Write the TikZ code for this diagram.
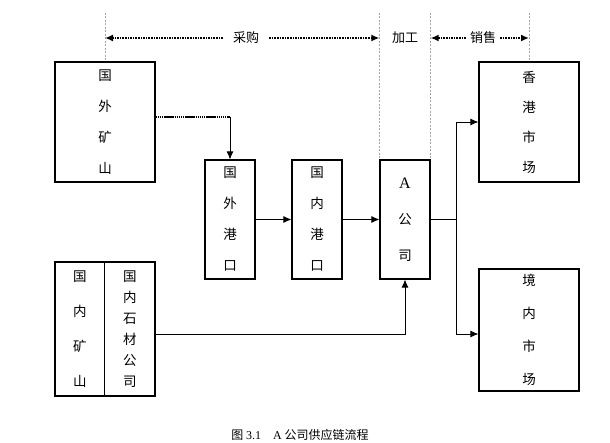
\documentclass[tikz,border=0pt]{standalone}
\usepackage{fontspec}
\setmainfont{Liberation Serif}
\newfontfamily\cjk{Noto Sans CJK SC}
\usetikzlibrary{arrows.meta}

\tikzset{
  box/.style={draw, line width=1.2pt, inner sep=0pt, align=center,
    font=\cjk\fontsize{13.5}{#1}\selectfont},
  guide/.style={gray!70, line width=.8pt, dash pattern=on 2pt off 1.5pt},
  span/.style={black, line width=1.6pt, dash pattern=on 1.6pt off 1pt,
    -{Latex[length=8pt,width=7pt]}},
  tag/.style={font=\cjk\fontsize{13}{15}\selectfont, inner sep=0pt},
  flow/.style={line width=.8pt, -{Latex[length=8pt,width=7pt]}},
}

\begin{document}
\begin{tikzpicture}[x=1pt, y=-1pt]
\useasboundingbox (0,0) rectangle (610,443);

% boxes
\node[box=31, minimum width=100, minimum height=120] (fmine) at (105,122) {国\\外\\矿\\山};
\node[box=31, minimum width=50, minimum height=119] (fport) at (230,219.5) {国\\外\\港\\口};
\node[box=31, minimum width=50, minimum height=119] (dport) at (317,219.5) {国\\内\\港\\口};
\node[box=36, minimum width=50, minimum height=119] (acomp) at (405,219.5) {{\rmfamily\fontsize{16}{16}\selectfont A}\\公\\司};
\node[box=30, minimum width=100, minimum height=120] (hk) at (529,122) {香\\港\\市\\场};
\node[box=33, minimum width=100, minimum height=122] (dmkt) at (529,330) {境\\内\\市\\场};
\node[box=35, minimum width=49.5, minimum height=134] (dmine) at (79.75,329) {国\\内\\矿\\山};
\node[box=21, minimum width=50.5, minimum height=134] (dstone) at (129.75,329) {国\\内\\石\\材\\公\\司};

% stage guides
\coordinate (g1) at (fmine.north |- 0,13);
\coordinate (g2) at (acomp.north west |- 0,13);
\coordinate (g3) at (acomp.north east |- 0,13);
\coordinate (g4) at (hk.north |- 0,13);
\draw[guide] (g1) -- (fmine.north);
\draw[guide] (g2) -- (acomp.north west);
\draw[guide] (g3) -- (acomp.north east);
\draw[guide] (g4) -- (hk.north);

\node[tag, inner xsep=10pt] (buy) at (246,38) {采购};
\node[tag] (make) at (405,38) {加工};
\node[tag, inner xsep=4pt] (sell) at (483,38) {销售};
\draw[span] (buy.west) -- (buy.west -| g1);
\draw[span] (buy.east) -- (buy.east -| g2);
\draw[span] (sell.west) -- (sell.west -| g3);
\draw[span] (sell.east) -- (sell.east -| g4);

% flows
\draw[line width=1.5pt, dash pattern=on 1.5pt off .6pt] ([yshift=5pt]fmine.east) -- ([yshift=5pt]fmine.east -| fport.north) coordinate (bend);
\draw[flow] (bend) -- (fport.north);
\draw[flow] (fport.east) -- (dport.west);
\draw[flow] (dport.east) -- (acomp.west);
\draw[flow] ([yshift=-5pt]dstone.east) -| (acomp.south);
\coordinate (split) at ([xshift=26pt]acomp.east);
\draw[line width=1.5pt] (acomp.east) -- (split);
\draw[flow] (split) |- (hk.west);
\draw[flow] (split) |- ([yshift=-4pt]dmkt.west);

\node[font=\cjk\fontsize{12}{14}\selectfont] (cap) at (300,435) {图 {\rmfamily 3.1}\quad {\rmfamily A} 公司供应链流程};
\end{tikzpicture}
\end{document}
